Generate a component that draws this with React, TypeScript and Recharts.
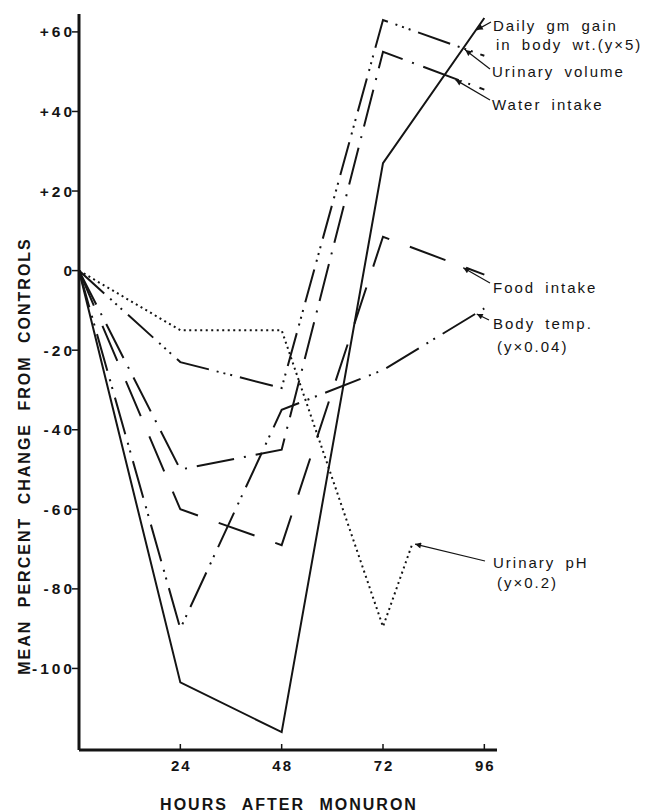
import React from 'react';
import { LineChart, Line, XAxis, YAxis } from 'recharts';

// hours after monuron
const hours = [0, 24, 48, 72, 96];
const phHours = [0, 24, 48, 72, 79];

// mean percent change from controls
const dailyGain = [0, -103.5, -116, 27, 63.5];
const urinaryVolume = [0, -23, -29.5, 63, 54];
const waterIntake = [0, -50, -45, 55, 45.5];
const foodIntake = [0, -60, -69, 8.5, -1];
const bodyTemp = [0, -90, -35, -25, -9.5];
const urinaryPh = [0, -15, -15, -89.5, -68.5];

const xTicks = [24, 48, 72, 96];
const yTicks = [60, 40, 20, 0, -20, -40, -60, -80, -100];

const W = 647;
const H = 812;
const PLOT = { left: 79, top: 14, width: 418, height: 736 };
const X_DOMAIN: [number, number] = [0, 99];
const Y_DOMAIN: [number, number] = [-120.5, 64.5];
const INK = '#141414';
const FONT = "'Liberation Sans', Arial, Helvetica, sans-serif";

const toPoints = (xs: number[], ys: number[]) => xs.map((h, i) => ({ hour: h, value: ys[i] }));

// same mapping the chart uses, for the leader arrows
const px = (h: number) => PLOT.left + ((h - X_DOMAIN[0]) / (X_DOMAIN[1] - X_DOMAIN[0])) * PLOT.width;
const py = (v: number) => PLOT.top + ((Y_DOMAIN[1] - v) / (Y_DOMAIN[1] - Y_DOMAIN[0])) * PLOT.height;
const valueAt = (xs: number[], ys: number[], h: number) => {
  for (let i = 1; i < xs.length; i++) {
    if (h <= xs[i]) {
      const t = (h - xs[i - 1]) / (xs[i] - xs[i - 1]);
      return ys[i - 1] + t * (ys[i] - ys[i - 1]);
    }
  }
  return ys[ys.length - 1];
};

const series = [
  { key: 'gain', xs: hours, ys: dailyGain, dash: undefined },
  { key: 'urine', xs: hours, ys: urinaryVolume, dash: '34 8 2 5 2 5 2 8' },
  { key: 'water', xs: hours, ys: waterIntake, dash: '38 10 2 10' },
  { key: 'food', xs: hours, ys: foodIntake, dash: '38 22' },
  { key: 'temp', xs: hours, ys: bodyTemp, dash: '38 9 2 6 2 9' },
  { key: 'ph', xs: phHours, ys: urinaryPh, dash: '2 3.5' },
];

const notes = [
  { lines: [['Daily gm gain', 493, 31], ['in body wt.(y×5)', 496, 50]], from: [491, 22], xs: hours, ys: dailyGain, at: 94.2 },
  { lines: [['Urinary volume', 492, 77]], from: [490, 69], xs: hours, ys: urinaryVolume, at: 91.5 },
  { lines: [['Water intake', 492, 110]], from: [490, 100], xs: hours, ys: waterIntake, at: 89.2 },
  { lines: [['Food intake', 493, 293]], from: [490, 283], xs: hours, ys: foodIntake, at: 91 },
  { lines: [['Body temp.', 493, 329], ['(y×0.04)', 497, 352]], from: [489, 320], xs: hours, ys: bodyTemp, at: 94.2 },
  { lines: [['Urinary pH', 493, 568], ['(y×0.2)', 497, 588]], from: [485, 561], xs: phHours, ys: urinaryPh, at: 79.6 },
];

const YTick = ({ y, payload }: any) => (
  <text x={PLOT.left - 7 + 3} y={y} dy="0.36em" textAnchor="end" fontFamily={FONT} fontSize={15.5} fontWeight="bold"
    letterSpacing={3} fill={INK}>
    {payload.value > 0 ? `+${payload.value}` : payload.value}
  </text>
);

const XTick = ({ x, payload }: any) => (
  <g>
    <line x1={x} x2={x} y1={PLOT.top + PLOT.height} y2={PLOT.top + PLOT.height - 6} stroke={INK} strokeWidth={1.5} />
    <text x={x + 1} y={PLOT.top + PLOT.height + 21} textAnchor="middle" fontFamily={FONT} fontSize={15}
      fontWeight="bold" letterSpacing={2} fill={INK}>
      {payload.value}
    </text>
  </g>
);

export default function App() {
  return (
    <div style={{ position: 'absolute', left: 0, top: 0, width: W, height: H, background: '#fff' }}>
      <LineChart width={W} height={H} margin={{ top: PLOT.top, right: W - PLOT.left - PLOT.width, left: 0, bottom: 0 }}>
        <XAxis dataKey="hour" type="number" domain={X_DOMAIN} ticks={xTicks} allowDataOverflow
          height={H - PLOT.top - PLOT.height} tickLine={false} tickSize={0} tickMargin={0}
          axisLine={{ stroke: INK, strokeWidth: 3 }} tick={<XTick />} />
        <YAxis type="number" domain={Y_DOMAIN} ticks={yTicks} allowDataOverflow width={PLOT.left}
          tickSize={7} tickMargin={0} tickLine={{ stroke: INK, strokeWidth: 1.5 }}
          axisLine={{ stroke: INK, strokeWidth: 3 }} tick={<YTick />} />
        {series.map((s) => (
          <Line key={s.key} data={toPoints(s.xs, s.ys)} dataKey="value" type="linear" stroke={INK}
            strokeWidth={2} strokeDasharray={s.dash} dot={false} activeDot={false} isAnimationActive={false} />
        ))}
      </LineChart>
      <svg width={W} height={H} style={{ position: 'absolute', left: 0, top: 0, pointerEvents: 'none' }}>
        <defs>
          <marker id="tip" viewBox="0 0 10 10" refX="10" refY="5" markerWidth="7" markerHeight="5" orient="auto">
            <path d="M0,0 L10,5 L0,10 z" fill={INK} />
          </marker>
        </defs>
        {notes.map((n, i) => (
          <g key={i}>
            <line x1={n.from[0]} y1={n.from[1]} x2={px(n.at)} y2={py(valueAt(n.xs, n.ys, n.at)) + 1}
              stroke={INK} strokeWidth={1.2} markerEnd="url(#tip)" />
            {n.lines.map(([t, x, y]) => (
              <text key={t as string} x={x as number} y={y as number} fontFamily={FONT} fontSize={15}
                letterSpacing={2} wordSpacing={4} fill={INK}>
                {t}
              </text>
            ))}
          </g>
        ))}
        <text transform="translate(24,456) rotate(-90)" textAnchor="middle" dy="0.36em" fontFamily={FONT}
          fontSize={16} fontWeight="bold" letterSpacing={2} wordSpacing={6} fill={INK}>
          MEAN PERCENT CHANGE FROM CONTROLS
        </text>
        <text x={289} y={810} textAnchor="middle" fontFamily={FONT} fontSize={16} fontWeight="bold"
          letterSpacing={2} wordSpacing={8} fill={INK}>
          HOURS AFTER MONURON
        </text>
      </svg>
    </div>
  );
}
